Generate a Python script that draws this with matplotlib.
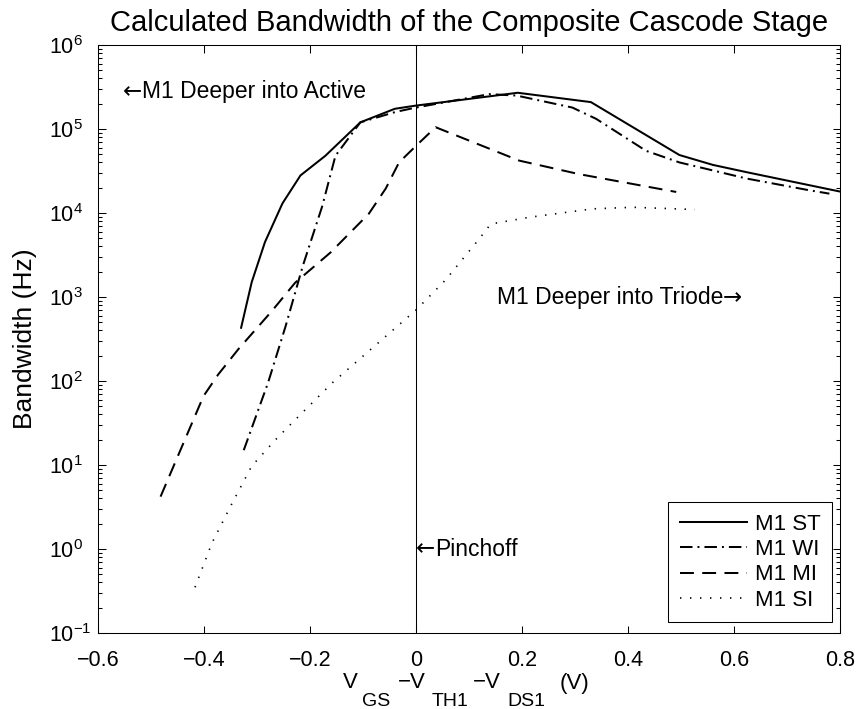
import matplotlib
matplotlib.use("Agg")
import matplotlib.pyplot as plt
from matplotlib.ticker import LogLocator, FixedLocator, NullFormatter

plt.rcParams['font.family'] = ['Liberation Sans', 'DejaVu Sans']
plt.rcParams['mathtext.fontset'] = 'custom'
plt.rcParams['mathtext.rm'] = 'Liberation Sans'
plt.rcParams['mathtext.it'] = 'Liberation Sans:italic'
plt.rcParams['mathtext.bf'] = 'Liberation Sans:bold'
plt.rcParams['lines.scale_dashes'] = False

# ---- data ----
st_x = [-0.330, -0.310, -0.285, -0.252, -0.218, -0.171, -0.105, -0.040, 0.0, 0.192, 0.330, 0.497, 0.560, 0.624, 0.800]
st_y = [430, 1500, 4500, 13000, 28000, 48000, 120000, 174000, 190000, 270000, 209000, 49000, 37400, 30600, 18000]

wi_x = [-0.325, -0.279, -0.246, -0.214, -0.177, -0.152, -0.105, -0.038, 0.0, 0.138, 0.190, 0.295, 0.340, 0.434, 0.497, 0.624, 0.743, 0.780]
wi_y = [15, 96, 450, 2300, 12000, 48000, 120000, 160000, 180000, 260000, 250000, 180000, 132000, 55000, 40000, 25700, 18600, 17000]

mi_x = [-0.482, -0.401, -0.373, -0.335, -0.272, -0.228, -0.161, -0.089, -0.057, -0.032, 0.0, 0.037, 0.195, 0.308, 0.491]
mi_y = [4.2, 66, 120, 240, 680, 1480, 3400, 9800, 19600, 40000, 63000, 105000, 42000, 29000, 17800]

si_x = [-0.417, -0.385, -0.347, -0.310, -0.265, -0.240, -0.158, 0.0, 0.056, 0.119, 0.141, 0.214, 0.333, 0.409, 0.526]
si_y = [0.35, 1.18, 3.5, 9.7, 20, 29, 95, 700, 1600, 4900, 7400, 8900, 11200, 11700, 11000]

x_ticks = [-0.6, -0.4, -0.2, 0, 0.2, 0.4, 0.6, 0.8]
x_tick_labels = ['\u22120.6', '\u22120.4', '\u22120.2', '0', '0.2', '0.4', '0.6', '0.8']
y_exponents = [-1, 0, 1, 2, 3, 4, 5, 6]
series_labels = ['M1 ST', 'M1 WI', 'M1 MI', 'M1 SI']
title_text = 'Calculated Bandwidth of the Composite Cascode Stage'
ylabel_text = 'Bandwidth (Hz)'
# x label pieces: (text, is_subscript, gap before in points)
xlabel_pieces = [('V', False, 0), ('GS', True, 2.9), ('\u2212V', False, 5.8), ('TH1', True, 4.3),
                 ('\u2212V', False, 2.9), ('DS1', True, 5.0), ('(V)', False, 10.0)]

W, H = 862, 709
fig = plt.figure(figsize=(W / 100, H / 100), dpi=100)
ax = fig.add_axes([98 / W, 1 - 633 / H, (840 - 98) / W, (633 - 45) / H])

lw = 1.45
ax.plot(st_x, st_y, color='k', lw=lw, linestyle='-', label=series_labels[0])
ax.plot(wi_x, wi_y, color='k', lw=lw, linestyle=(0, (9, 3.6, 1.4, 3.6)), label=series_labels[1])
ax.plot(mi_x, mi_y, color='k', lw=lw, linestyle=(0, (10, 6)), label=series_labels[2])
ax.plot(si_x, si_y, color='k', lw=1.2, linestyle=(0, (1, 6.2)), label=series_labels[3])
ax.axvline(0, color='k', lw=0.75)

ax.set_yscale('log')
ax.set_xlim(-0.6, 0.8)
ax.set_ylim(1e-1, 1e6)
ax.set_xticks(x_ticks)
ax.set_xticklabels(x_tick_labels)
ax.yaxis.set_major_locator(FixedLocator([10.0 ** k for k in y_exponents]))
ax.set_yticklabels([r'$\mathdefault{10^{%d}}$' % k if k >= 0 else r'$\mathdefault{10^{\u2212%d}}$'.replace('\\u2212', '\u2212') % (-k) for k in y_exponents])
ax.yaxis.set_minor_locator(LogLocator(base=10, subs=range(2, 10), numticks=20))
ax.yaxis.set_minor_formatter(NullFormatter())

ax.tick_params(which='both', direction='in', top=True, right=True, labelsize=15.5, width=0.75)
ax.tick_params(which='major', length=5.4)
ax.tick_params(which='minor', length=2.6)
ax.tick_params(axis='x', which='minor', bottom=False, top=False)
ax.tick_params(axis='x', which='major', pad=12.5)
ax.tick_params(axis='y', which='major', pad=35)
plt.setp(ax.get_yticklabels(), ha='left')
for s in ax.spines.values():
    s.set_linewidth(0.75)

ax.set_title(title_text, fontsize=21, pad=10)
ax.set_ylabel(ylabel_text, fontsize=19, labelpad=9)

# x label built from pieces so subscripts match the reference size
main_fs, sub_fs = 16, 14
main_base = 1 - 688.5 / H
sub_base = 1 - 705.5 / H
prev = fig.text(343 / W, main_base, xlabel_pieces[0][0], fontsize=main_fs, ha='left', va='baseline')
for txt, is_sub, gap in xlabel_pieces[1:]:
    prev = ax.annotate(txt, xy=(1, sub_base if is_sub else main_base),
                       xycoords=(prev, 'figure fraction'), xytext=(gap, 0),
                       textcoords='offset points', ha='left', va='baseline',
                       fontsize=sub_fs if is_sub else main_fs, annotation_clip=False)

# annotations
ann_fs = 16.5
a1 = ax.text(-0.553, 2.8e5, '\u2190', family=['DejaVu Sans'], fontsize=ann_fs, ha='left', va='center')
ax.annotate('M1 Deeper into Active', xy=(1, 0.5), xycoords=a1, xytext=(0.3, 0),
            textcoords='offset points', ha='left', va='center', fontsize=ann_fs)
t2 = ax.text(0.152, 980, 'M1 Deeper into Triode', fontsize=ann_fs, ha='left', va='center')
ax.annotate('\u2192', xy=(1, 0.5), xycoords=t2, xytext=(-0.3, 0), textcoords='offset points',
            ha='left', va='center', family=['DejaVu Sans'], fontsize=ann_fs)
a3 = ax.text(0.0, 1.0, '\u2190', family=['DejaVu Sans'], fontsize=ann_fs, ha='left', va='center')
ax.annotate('Pinchoff', xy=(1, 0.5), xycoords=a3, xytext=(0.3, 0),
            textcoords='offset points', ha='left', va='center', fontsize=ann_fs)

leg = ax.legend(loc='lower right', bbox_to_anchor=(832 / W, 1 - 622 / H), bbox_transform=fig.transFigure,
                fontsize=16, frameon=True, fancybox=False, edgecolor='k', framealpha=1,
                handlelength=3.05, borderpad=0.5, labelspacing=0.2, handletextpad=0.35,
                borderaxespad=0)
leg.get_frame().set_linewidth(0.75)

fig.savefig('out.png', dpi=100)
